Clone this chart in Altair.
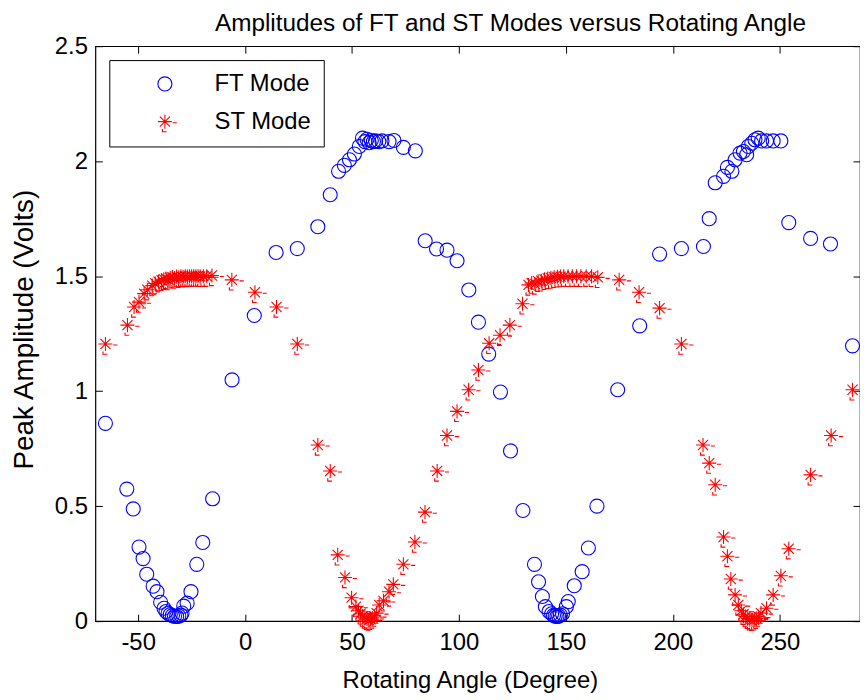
import altair as alt
import pandas as pd

ft_x = [-65.3, -55.3, -52.3, -49.6, -47.7, -46.0, -43.0, -41.2, -39.5, -37.9, -37.0, -36.0, -35.0, -34.0,
        -33.0, -32.0, -31.0, -30.0, -29.5, -28.7, -27.1, -25.3, -22.6, -19.8, -15.2, -6.1, 4.3, 14.5, 24.4,
        34.0, 39.8, 43.7, 46.4, 48.8, 51.1, 53.4, 54.9, 56.0, 57.0, 58.0, 59.0, 60.0, 61.0, 62.5, 64.0, 67.3,
        69.6, 74.0, 79.6, 84.2, 89.5, 94.4, 99.1, 104.6, 109.1, 113.9, 119.4, 124.1, 129.9, 135.3, 137.2,
        139.0, 140.4, 142.1, 143.3, 144.2, 145.0, 145.8, 146.6, 147.4, 148.4, 150.2, 151.1, 153.9, 157.6,
        160.5, 164.5, 174.2, 184.5, 193.8, 204.0, 214.3, 217.0, 219.8, 223.7, 225.5, 227.6, 229.1, 231.4,
        233.0, 234.5, 235.3, 236.9, 238.4, 239.9, 241.5, 243.8, 246.9, 250.5, 254.2, 264.4, 273.7, 284.0]
ft_y = [0.860, 0.574, 0.488, 0.322, 0.272, 0.204, 0.152, 0.128, 0.082, 0.056, 0.042, 0.034, 0.028, 0.024,
        0.021, 0.020, 0.022, 0.026, 0.035, 0.065, 0.078, 0.128, 0.247, 0.342, 0.532, 1.049, 1.329, 1.603, 1.620,
        1.715, 1.854, 1.956, 1.982, 2.006, 2.031, 2.064, 2.100, 2.085, 2.095, 2.080, 2.090, 2.085, 2.088, 2.085,
        2.088, 2.085, 2.090, 2.060, 2.045, 1.654, 1.618, 1.613, 1.567, 1.440, 1.300, 1.161, 0.996, 0.740, 0.481,
        0.247, 0.171, 0.107, 0.063, 0.042, 0.032, 0.025, 0.022, 0.020, 0.022, 0.026, 0.032, 0.063, 0.085,
        0.154, 0.215, 0.318, 0.500, 1.006, 1.284, 1.596, 1.620, 1.629, 1.750, 1.906, 1.934, 1.973, 1.956,
        2.006, 2.035, 2.042, 2.028, 2.064, 2.078, 2.093, 2.100, 2.088, 2.088, 2.088, 2.088, 1.733, 1.664,
        1.640, 1.197]

st_x = [-65.3, -55.0, -51.9, -49.6, -47.2, -45.7, -43.4, -42.0, -40.5, -39.0, -38.0, -37.0, -36.0, -35.0,
        -34.0, -33.0, -32.0, -31.0, -30.0, -29.0, -28.0, -27.0, -26.0, -25.0, -24.0, -23.0, -22.0, -21.0,
        -19.5, -18.0, -15.5, -6.2, 4.6, 14.7, 24.4, 34.0, 39.8, 43.3, 46.7, 49.8, 51.8, 53.0, 54.0, 55.0,
        56.0, 57.0, 57.8, 58.6, 59.5, 60.5, 61.5, 62.7, 64.7, 67.3, 69.3, 74.0, 79.4, 84.1, 89.8, 94.4, 99.1,
        104.5, 109.1, 114.1, 119.2, 123.8, 129.7, 132.5, 134.0, 135.5, 137.0, 138.5, 140.0, 141.5, 143.0,
        144.5, 146.0, 147.5, 149.0, 151.0, 153.0, 155.0, 157.0, 159.5, 162.0, 164.9, 174.9, 184.2, 193.8,
        204.0, 214.1, 217.0, 219.8, 223.7, 225.5, 227.1, 229.1, 230.6, 232.0, 233.0, 234.0, 235.0, 236.0,
        237.0, 238.0, 239.0, 240.0, 241.2, 243.8, 246.9, 250.5, 254.2, 264.4, 274.0, 284.0]
st_y = [1.205, 1.287, 1.366, 1.387, 1.424, 1.441, 1.459, 1.468, 1.476, 1.482, 1.487, 1.490, 1.485, 1.493,
        1.496, 1.492, 1.498, 1.495, 1.500, 1.497, 1.500, 1.498, 1.500, 1.500, 1.499, 1.500, 1.500, 1.499,
        1.500, 1.500, 1.503, 1.484, 1.430, 1.366, 1.205, 0.766, 0.653, 0.288, 0.190, 0.102, 0.063, 0.045,
        0.032, 0.022, 0.014, 0.008, 0.005, 0.008, 0.014, 0.022, 0.035, 0.070, 0.088, 0.128, 0.160, 0.247,
        0.344, 0.474, 0.653, 0.807, 0.912, 1.006, 1.092, 1.208, 1.243, 1.287, 1.380, 1.462, 1.470, 1.466,
        1.478, 1.480, 1.486, 1.490, 1.492, 1.495, 1.497, 1.498, 1.500, 1.499, 1.500, 1.500, 1.499, 1.500,
        1.499, 1.495, 1.484, 1.430, 1.361, 1.205, 0.766, 0.687, 0.593, 0.366, 0.282, 0.183, 0.114, 0.070,
        0.045, 0.030, 0.020, 0.012, 0.006, 0.004, 0.006, 0.012, 0.020, 0.035, 0.056, 0.114, 0.197, 0.315,
        0.636, 0.807, 1.006]

series_names = ["FT Mode", "ST Mode"]
x_ticks = [-50, 0, 50, 100, 150, 200, 250]
y_ticks = [0, 0.5, 1, 1.5, 2, 2.5]

df = pd.concat([
    pd.DataFrame({"angle": ft_x, "amp": ft_y, "series": series_names[0]}),
    pd.DataFrame({"angle": st_x, "amp": st_y, "series": series_names[1]}),
], ignore_index=True)

W, H = 770, 579
FONT = "Liberation Sans"
ASTERISK = ("M-1,0L1,0M0,-1L0,1M-0.72,-0.72L0.72,0.72M-0.72,0.72L0.72,-0.72"
            "M1.1,0.15L1.7,0.15M-0.35,1.05L-0.35,1.45L0.25,1.45")

xscale = alt.Scale(domain=[-70, 287.5], nice=False, zero=False)
yscale = alt.Scale(domain=[0, 2.5], nice=False, zero=False)

base = alt.Chart(df)

legend_kw = dict(title=None, orient="none", legendX=14, legendY=14,
                 fillColor="white", strokeColor="black", padding=12,
                 symbolOffset=32, labelOffset=38, rowPadding=14,
                 labelFontSize=24, labelFont=FONT, symbolSize=200,
                 symbolStrokeWidth=1.1, labelColor="black")

points = base.mark_point(filled=False, size=200, strokeWidth=1.1, opacity=1).encode(
    x=alt.X("angle:Q", scale=xscale,
            axis=alt.Axis(orient="bottom", values=x_ticks, ticks=False, domain=False, grid=False,
                          labelExpr="'' + datum.value", labelPadding=10,
                          title="Rotating Angle (Degree)", titlePadding=14, titleX=377)),
    y=alt.Y("amp:Q", scale=yscale,
            axis=alt.Axis(orient="left", values=y_ticks, ticks=False, domain=False, grid=False,
                          format="~g", labelPadding=8,
                          title="Peak Amplitude (Volts)", titlePadding=16, titleFontSize=28,
                          titleY=285)),
    color=alt.Color("series:N", scale=alt.Scale(domain=series_names, range=["#0000ff", "#ff0000"]),
                    legend=alt.Legend(**legend_kw)),
    shape=alt.Shape("series:N", scale=alt.Scale(domain=series_names, range=["circle", ASTERISK]),
                    legend=alt.Legend(**legend_kw)),
)

ticks_in_a = base.mark_point(opacity=0).encode(
    x=alt.X("angle:Q", scale=xscale,
            axis=alt.Axis(orient="top", offset=-H, values=x_ticks, labels=False, domain=False,
                          grid=False, ticks=True, tickSize=7, tickColor="black", title=None)),
    y=alt.Y("amp:Q", scale=yscale,
            axis=alt.Axis(orient="right", offset=-W, values=y_ticks, labels=False, domain=False,
                          grid=False, ticks=True, tickSize=7, tickColor="black", title=None)),
)

ticks_in_b = base.mark_point(opacity=0).encode(
    x=alt.X("angle:Q", scale=xscale,
            axis=alt.Axis(orient="bottom", offset=-H, values=x_ticks, labels=False, domain=False,
                          grid=False, ticks=True, tickSize=7, tickColor="black", title=None)),
    y=alt.Y("amp:Q", scale=yscale,
            axis=alt.Axis(orient="left", offset=-W, values=y_ticks, labels=False, domain=False,
                          grid=False, ticks=True, tickSize=7, tickColor="black", title=None)),
)

chart = alt.layer(points, ticks_in_a, ticks_in_b).resolve_axis(
    x="independent", y="independent"
).properties(
    width=W, height=H,
    title=alt.Title("Amplitudes of FT and ST Modes versus Rotating Angle", fontSize=24.5, font=FONT,
                    fontWeight="normal", anchor="middle", frame="group", offset=2, dy=4, dx=33,
                    color="black"),
    autosize=alt.AutoSizeParams(type="none"),
    padding={"left": 88, "top": 36, "right": 0, "bottom": 80},
).configure(
    background="white"
).configure_view(
    stroke="black", strokeWidth=1.2
).configure_axis(
    labelFont=FONT, labelFontSize=24, labelColor="black",
    titleFont=FONT, titleFontSize=24, titleColor="black", titleFontWeight="normal",
)

chart.save("out.html", embed_options={"renderer": "svg", "actions": False})
